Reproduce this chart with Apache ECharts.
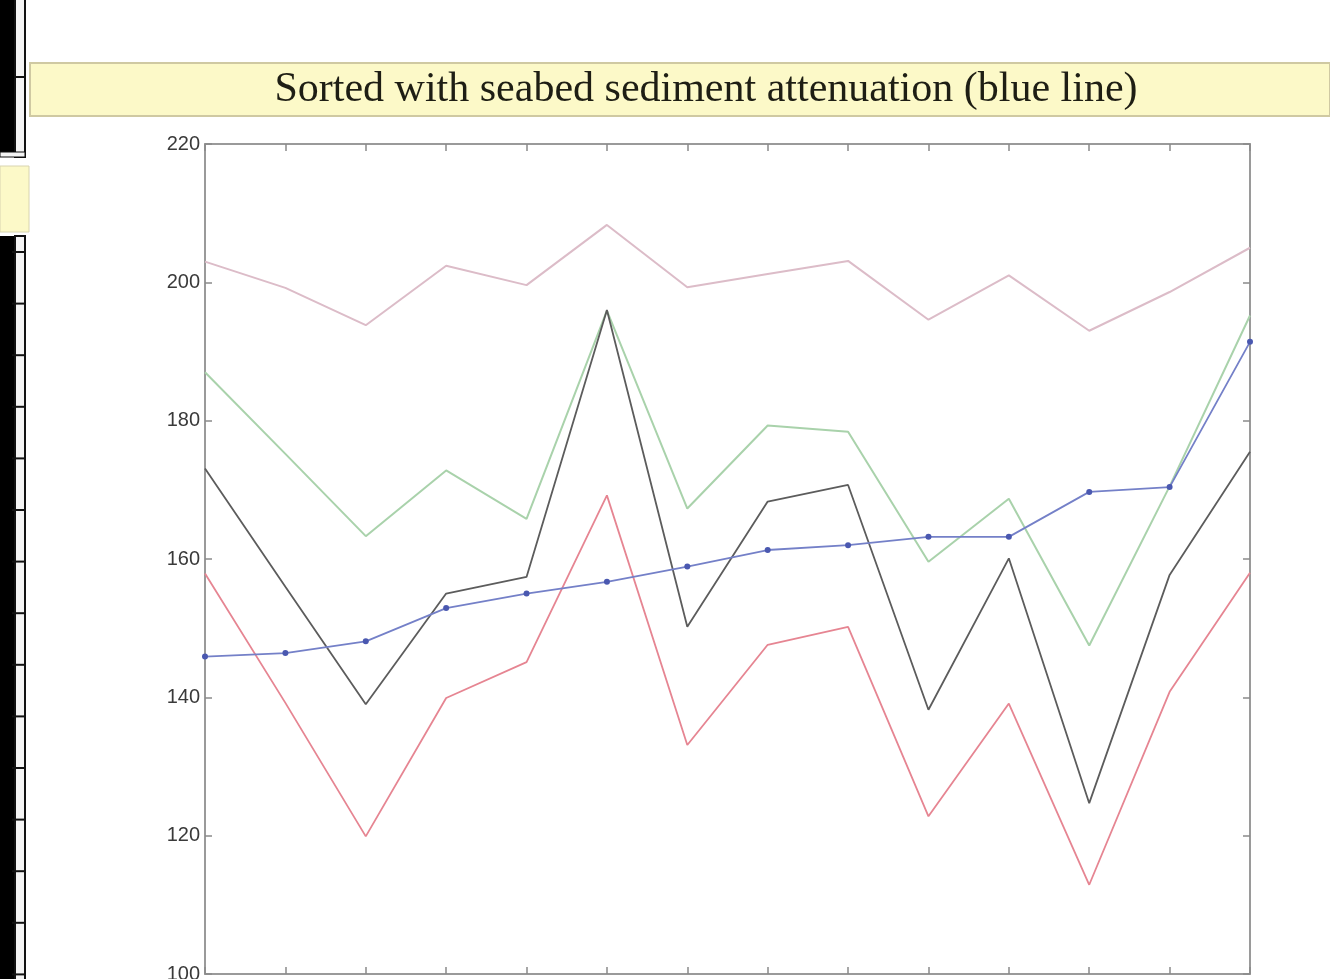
<!DOCTYPE html>
<html>
<head>
<meta charset="utf-8">
<title>Sorted with seabed sediment attenuation</title>
<script src="https://cdn.jsdelivr.net/npm/echarts@6/dist/echarts.min.js"></script>
<style>
    html, body { margin: 0; padding: 0; background: #fff; }
    #main { width: 1330px; height: 979px; }
</style>
</head>
<body>
<div id="main"></div>
<script>
// x positions 1..14
var xIndex = [1, 2, 3, 4, 5, 6, 7, 8, 9, 10, 11, 12, 13, 14];
var yTicks = [100, 120, 140, 160, 180, 200, 220];

// values
var pinkLine = [203.0, 199.2, 193.8, 202.4, 199.6, 208.3, 199.3, 201.2, 203.1, 194.6, 201.0, 193.0, 198.6, 205.0];
var greenLine = [187.0, 175.2, 163.3, 172.8, 165.8, 195.9, 167.3, 179.3, 178.4, 159.6, 168.7, 147.5, 170.5, 195.2];
var blackLine = [173.1, 156.0, 139.0, 155.0, 157.4, 196.0, 150.2, 168.3, 170.7, 138.2, 160.1, 124.7, 157.7, 175.5];
var redLine = [157.9, 139.2, 119.9, 139.9, 145.1, 169.2, 133.1, 147.6, 150.2, 122.8, 139.1, 112.9, 140.8, 158.0];
var blueLine = [145.9, 146.4, 148.1, 152.9, 155.0, 156.7, 158.9, 161.3, 162.0, 163.2, 163.2, 169.7, 170.4, 191.4];

var pairUp = function (ys) {
    return xIndex.map(function (x, i) { return [x, ys[i]]; });
};

// slide leftovers round the figure (ruler strip on the left, yellow bands)
var buildDecor = function () {
    var items = [
        { type: 'rect', shape: { x: 30, y: 63, width: 1300, height: 53 },
          style: { fill: '#fcf9c8', stroke: '#cfc9a2', lineWidth: 2 } },
        { type: 'rect', shape: { x: 0, y: 0, width: 16, height: 157 }, style: { fill: '#000' } },
        { type: 'rect', shape: { x: 15, y: -2, width: 10, height: 159 },
          style: { fill: '#f4f4f4', stroke: '#111', lineWidth: 2 } },
        { type: 'rect', shape: { x: 0, y: 152, width: 25, height: 5 },
          style: { fill: '#f4f4f4', stroke: '#111', lineWidth: 1 } },
        { type: 'rect', shape: { x: 0, y: 166, width: 29, height: 66 },
          style: { fill: '#fcf9c8', stroke: '#d8d4b0', lineWidth: 1 } },
        { type: 'rect', shape: { x: 0, y: 236, width: 16, height: 750 }, style: { fill: '#000' } },
        { type: 'rect', shape: { x: 15, y: 236, width: 10, height: 750 },
          style: { fill: '#f4f4f4', stroke: '#111', lineWidth: 2 } }
    ];
    items.push({ type: 'line', shape: { x1: 14, y1: 77, x2: 26, y2: 77 }, style: { stroke: '#111', lineWidth: 2 } });
    for (var y = 252; y < 979; y += 51.6) {
        items.push({ type: 'line', shape: { x1: 12, y1: y, x2: 26, y2: y }, style: { stroke: '#111', lineWidth: 2 } });
    }
    items.push({
        type: 'text', x: 706, y: 90,
        style: {
            text: 'Sorted with seabed sediment attenuation (blue line)',
            font: '42px "Liberation Serif", "Times New Roman", serif',
            fill: '#1e1e14', align: 'center', verticalAlign: 'middle'
        }
    });
    return items;
};

var tickStyle = { show: true, inside: true, length: 7, lineStyle: { color: '#8a8a8a', width: 1.5 } };
var frameLine = { show: true, onZero: false, lineStyle: { color: '#9a9a9a', width: 2 } };

var lineSeries = function (name, ys, color, width) {
    return {
        name: name, type: 'line', data: pairUp(ys),
        showSymbol: false, symbol: 'none',
        lineStyle: { color: color, width: width },
        itemStyle: { color: color },
        animation: false, z: 3
    };
};

var myChart = echarts.init(document.getElementById('main'));
myChart.setOption({
    backgroundColor: '#fff',
    animation: false,
    graphic: buildDecor(),
    grid: { left: 205, top: 144, width: 1045, height: 830, containLabel: false, outerBoundsMode: 'none' },
    xAxis: [
        { type: 'value', min: 1, max: 14, interval: 1, position: 'bottom',
          axisLine: frameLine, axisTick: tickStyle, axisLabel: { show: false }, splitLine: { show: false } },
        { type: 'value', min: 1, max: 14, interval: 1, position: 'top',
          axisLine: frameLine, axisTick: tickStyle, axisLabel: { show: false }, splitLine: { show: false } }
    ],
    yAxis: [
        { type: 'value', min: yTicks[0], max: yTicks[yTicks.length - 1], interval: 20, position: 'left',
          axisLine: frameLine, axisTick: tickStyle, splitLine: { show: false },
          axisLabel: { color: '#3a3a3a', fontSize: 20, fontFamily: 'Liberation Sans, Arial, sans-serif', margin: 5 } },
        { type: 'value', min: yTicks[0], max: yTicks[yTicks.length - 1], interval: 20, position: 'right',
          axisLine: frameLine, axisTick: tickStyle, axisLabel: { show: false }, splitLine: { show: false } }
    ],
    series: [
        lineSeries('pink', pinkLine, '#dcbcc8', 2),
        lineSeries('green', greenLine, '#a9d2ab', 2),
        lineSeries('black', blackLine, '#5c5c5c', 1.8),
        lineSeries('red', redLine, '#e68592', 1.8),
        {
            name: 'blue', type: 'line', data: pairUp(blueLine),
            symbol: 'circle', symbolSize: 6, showSymbol: true,
            lineStyle: { color: '#7480c8', width: 1.8 },
            itemStyle: { color: '#4a58b0' },
            animation: false, z: 4
        }
    ]
});
</script>
</body>
</html>
